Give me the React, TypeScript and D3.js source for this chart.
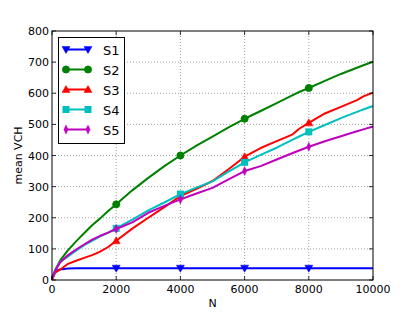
import * as d3 from 'd3'
import { useEffect, useRef } from 'react'

// sample points along N
const nValues = [0, 100, 250, 500, 750, 1000, 1250, 1500, 1750, 2000, 2500, 3000, 3500, 4000, 4500, 5000, 5500, 6000, 6500, 7000, 7500, 7700, 8000, 8500, 9000, 9500, 9700, 10000]
const s1 = [8, 28, 34, 37, 38, 38, 38, 38, 38, 38, 38, 38, 38, 38, 38, 38, 38, 38, 38, 38, 38, 38, 38, 38, 38, 38, 38, 38]
const s2 = [4, 32, 62, 96, 124, 150, 176, 198, 222, 243, 288, 328, 366, 400, 432, 461, 490, 518, 543, 568, 594, 604, 617, 640, 662, 682, 690, 701]
const s3 = [0, 24, 33, 52, 62, 71, 80, 91, 106, 126, 165, 200, 234, 270, 293, 318, 356, 396, 424, 446, 468, 486, 505, 535, 556, 578, 590, 602]
const s4 = [3, 30, 58, 76, 94, 112, 126, 140, 152, 166, 194, 224, 249, 276, 297, 317, 348, 378, 402, 425, 451, 461, 476, 498, 520, 540, 548, 559]
const s5 = [3, 30, 56, 80, 98, 114, 130, 142, 152, 164, 185, 216, 238, 259, 278, 296, 323, 350, 366, 387, 408, 416, 428, 446, 462, 478, 484, 493]
const markerN = [2000, 4000, 6000, 8000]

const seriesNames = ['S1', 'S2', 'S3', 'S4', 'S5']
const seriesValues = [s1, s2, s3, s4, s5]
const seriesColors = ['#0000ff', '#008000', '#ff0000', '#00bfbf', '#bf00bf']
const seriesMarkers = ['tridown', 'circle', 'triup', 'square', 'diamond']

const xTicks = [0, 2000, 4000, 6000, 8000, 10000]
const yTicks = [0, 100, 200, 300, 400, 500, 600, 700, 800]

const drawMarker = (g, kind, x, y, color) => {
  const r = 3.5
  if (kind === 'circle') {
    g.append('circle').attr('cx', x).attr('cy', y).attr('r', r).attr('fill', color).attr('stroke', color)
  } else if (kind === 'square') {
    g.append('rect').attr('x', x - r).attr('y', y - r).attr('width', 2 * r).attr('height', 2 * r).attr('fill', color)
  } else {
    let pts
    if (kind === 'triup') pts = [[x, y - r - 0.5], [x + r + 0.5, y + r - 0.5], [x - r - 0.5, y + r - 0.5]]
    else if (kind === 'tridown') pts = [[x, y + r + 0.5], [x + r + 0.5, y - r + 0.5], [x - r - 0.5, y - r + 0.5]]
    else pts = [[x, y - r - 1], [x + r * 0.6, y], [x, y + r + 1], [x - r * 0.6, y]]
    g.append('polygon').attr('points', pts.map((p) => p.join(',')).join(' ')).attr('fill', color).attr('stroke', color).attr('stroke-width', 0.5)
  }
}

const App = () => {
  const ref = useRef(null)

  useEffect(() => {
    const width = 415
    const height = 312
    const margin = { top: 31, right: 42, bottom: 32, left: 52 }
    const svg = d3.select(ref.current)
    svg.selectAll('*').remove()
    svg.attr('width', width).attr('height', height)
    svg.append('rect').attr('width', width).attr('height', height).attr('fill', 'white')

    const x = d3.scaleLinear().domain([0, 10000]).range([margin.left, width - margin.right])
    const y = d3.scaleLinear().domain([0, 800]).range([height - margin.bottom, margin.top])
    const x0 = x(0)
    const x1 = x(10000)
    const y0 = y(0)
    const y1 = y(800)

    // grid
    const grid = svg.append('g').attr('stroke', '#777').attr('stroke-width', 0.7).attr('stroke-dasharray', '1,2')
    xTicks.slice(1, -1).forEach((t) => {
      grid.append('line').attr('x1', x(t)).attr('x2', x(t)).attr('y1', y0).attr('y2', y1)
    })
    yTicks.slice(1, -1).forEach((t) => {
      grid.append('line').attr('x1', x0).attr('x2', x1).attr('y1', y(t)).attr('y2', y(t))
    })

    // lines
    const plot = svg.append('g')
    seriesValues.forEach((vals, i) => {
      const line = d3
        .line()
        .x((d) => x(d[0]))
        .y((d) => y(d[1]))
      plot
        .append('path')
        .datum(nValues.map((n, j) => [n, vals[j]]))
        .attr('d', line)
        .attr('fill', 'none')
        .attr('stroke', seriesColors[i])
        .attr('stroke-width', 2)
        .attr('stroke-linejoin', 'round')
      markerN.forEach((n) => {
        const j = nValues.indexOf(n)
        drawMarker(plot, seriesMarkers[i], x(n), y(vals[j]), seriesColors[i])
      })
    })

    // frame
    svg
      .append('rect')
      .attr('x', x0)
      .attr('y', y1)
      .attr('width', x1 - x0)
      .attr('height', y0 - y1)
      .attr('fill', 'none')
      .attr('stroke', 'black')
      .attr('stroke-width', 1)

    // ticks inside on all sides
    const ticks = svg.append('g').attr('stroke', 'black').attr('stroke-width', 0.8)
    xTicks.forEach((t) => {
      ticks.append('line').attr('x1', x(t)).attr('x2', x(t)).attr('y1', y0).attr('y2', y0 - 4)
      ticks.append('line').attr('x1', x(t)).attr('x2', x(t)).attr('y1', y1).attr('y2', y1 + 4)
    })
    yTicks.forEach((t) => {
      ticks.append('line').attr('x1', x0).attr('x2', x0 + 4).attr('y1', y(t)).attr('y2', y(t))
      ticks.append('line').attr('x1', x1).attr('x2', x1 - 4).attr('y1', y(t)).attr('y2', y(t))
    })

    const font = 'DejaVu Sans, sans-serif'
    xTicks.forEach((t) => {
      svg.append('text').attr('x', x(t)).attr('y', y0 + 13).attr('text-anchor', 'middle')
        .attr('font-family', font).attr('font-size', 11).text(t)
    })
    yTicks.forEach((t) => {
      svg.append('text').attr('x', x0 - 3).attr('y', y(t) + 4).attr('text-anchor', 'end')
        .attr('font-family', font).attr('font-size', 11).text(t)
    })
    svg.append('text').attr('x', (x0 + x1) / 2).attr('y', 307).attr('text-anchor', 'middle')
      .attr('font-family', font).attr('font-size', 11).text('N')
    svg.append('text').attr('transform', `translate(22,${(y0 + y1) / 2}) rotate(-90)`).attr('text-anchor', 'middle')
      .attr('font-family', font).attr('font-size', 11).text('mean VCH')

    // legend
    const lg = svg.append('g')
    lg.append('rect').attr('x', 58.5).attr('y', 37.5).attr('width', 66).attr('height', 106)
      .attr('fill', 'white').attr('stroke', 'black').attr('stroke-width', 1)
    seriesNames.forEach((name, i) => {
      const ly = 49.5 + i * 20
      lg.append('line').attr('x1', 66).attr('x2', 88).attr('y1', ly).attr('y2', ly)
        .attr('stroke', seriesColors[i]).attr('stroke-width', 2)
      drawMarker(lg, seriesMarkers[i], 66, ly, seriesColors[i])
      drawMarker(lg, seriesMarkers[i], 88, ly, seriesColors[i])
      lg.append('text').attr('x', 103).attr('y', ly + 5).attr('font-family', font).attr('font-size', 13).text(name)
    })
  }, [])

  return (
    <div style={{ position: 'absolute', left: 0, top: 0 }}>
      <svg ref={ref}></svg>
    </div>
  )
}

export default App
